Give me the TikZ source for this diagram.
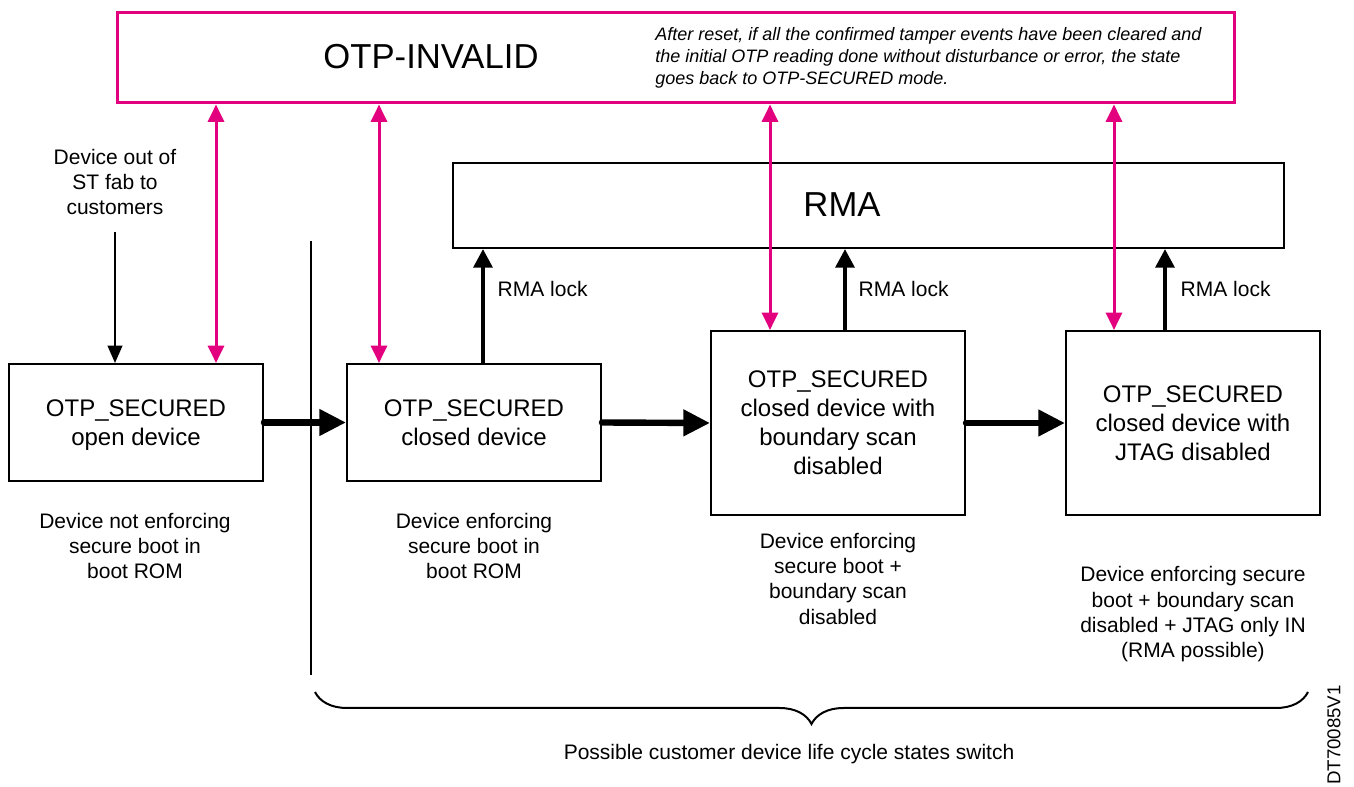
\documentclass[tikz,border=0pt]{standalone}
\usepackage{fontspec}
\setmainfont{Liberation Sans}
\usetikzlibrary{arrows.meta,decorations.pathreplacing}
\definecolor{stpink}{HTML}{E3007E}
\begin{document}
\begin{tikzpicture}[x=0.75pt,y=-0.75pt,
  statebox/.style={draw, line width=1.5pt, minimum width=190.5pt, align=center, inner sep=0pt,
    font=\fontsize{18}{21.75}\selectfont},
  caption/.style={align=center, font=\fontsize{15.75}{19}\selectfont},
  biglabel/.style={font=\fontsize{26}{30}\selectfont},
  pinkarr/.style={draw=stpink, line width=2.25pt,
    {Triangle[length=13pt,width=12pt]}-{Triangle[length=13pt,width=12pt]}},
  thickarr/.style={line width=4.8pt, line cap=round, -{Triangle[length=20pt,width=19pt]}},
  uparr/.style={line width=3.2pt, -{Triangle[length=14pt,width=14pt]}},
  thinarr/.style={line width=1.5pt, -{Triangle[length=13pt,width=11pt]}}
]
\useasboundingbox (0,0) rectangle (1354,787);

% top boxes
\node[draw=stpink, line width=2.25pt, minimum width=837.75pt, minimum height=67.5pt, inner sep=0pt] (inv) at (675.5,58) {};
\node[biglabel] (invt) at (431,57) {OTP-INVALID};
\node[anchor=west, align=left, inner sep=0pt, font=\fontsize{13.5}{16.5}\selectfont\itshape] (note) at (655,58)
  {After reset, if all the confirmed tamper events have been cleared and\\
   the initial OTP reading done without disturbance or error, the state\\
   goes back to OTP-SECURED mode.};

\node[draw, line width=1.5pt, minimum width=623.25pt, minimum height=63.75pt, inner sep=0pt] (rma) at (868.5,205.5) {};
\node[biglabel] (rmat) at (842,205) {RMA};

% state boxes
\node[statebox, minimum height=87.75pt] (b1) at (136,422.5) {OTP\_SECURED\\\smash{open device}};
\node[statebox, minimum height=87.75pt] (b2) at (474,422.5) {OTP\_SECURED\\closed device};
\node[statebox, minimum height=138pt] (b3) at (838,423) {OTP\_SECURED\\closed device with\\boundary scan\\disabled};
\node[statebox, minimum height=138pt] (b4) at (1193,423) {OTP\_SECURED\\closed device with\\JTAG disabled};

% column coordinates
\coordinate (c1) at (216,0);
\coordinate (c2) at (379,0);
\coordinate (c3) at (770,0);
\coordinate (c4) at (1114,0);
\coordinate (r1) at (483,0);
\coordinate (r2) at (845,0);
\coordinate (r3) at (1165,0);

% source text
\node[caption] (src) at (115,182) {Device out of\\ST fab to\\customers};
\coordinate (srcb) at (115,232);
\draw[thinarr] (srcb) -- (b1.north -| srcb);

% pink arrows
\draw[pinkarr] (inv.south -| c1) -- (b1.north -| c1);
\draw[pinkarr] (inv.south -| c2) -- (b2.north -| c2);
\draw[pinkarr] (inv.south -| c3) -- (b3.north -| c3);
\draw[pinkarr] (inv.south -| c4) -- (b4.north -| c4);

% RMA lock arrows
\draw[uparr] (b2.north -| r1) -- (rma.south -| r1);
\draw[uparr] (b3.north -| r2) -- (rma.south -| r2);
\draw[uparr] (b4.north -| r3) -- (rma.south -| r3);
\node[caption, anchor=west] (l1) at (493,289) {RMA lock};
\node[caption, anchor=west] (l2) at (854,289) {RMA lock};
\node[caption, anchor=west] (l3) at (1176,289) {RMA lock};

% horizontal transitions
\draw[thickarr] (b1.east) -- (b2.west);
\draw[thickarr] (b2.east) -- (b3.west);
\draw[thickarr] (b3.east) -- (b4.west);

% separator
\draw[line width=1.5pt] (311,241) -- (311,675);

% captions
\node[caption] (k1) at (135,546) {Device not enforcing\\secure boot in\\boot ROM};
\node[caption] (k2) at (474,546) {Device enforcing\\secure boot in\\boot ROM};
\node[caption] (k3) at (838,578.5) {Device enforcing\\secure boot +\\boundary scan\\disabled};
\node[caption] (k4) at (1193,614.5) {Device enforcing secure\\boot + boundary scan\\disabled + JTAG only IN\\(RMA possible)};

% brace
\draw[line width=1.5pt, decorate, decoration={brace, mirror, amplitude=24pt}] (315,692) -- (1308,692);
\node[caption] (br) at (789,754) {Possible customer device life cycle states switch};

\node[rotate=90, font=\fontsize{14}{16}\selectfont] (dt) at (1334,735) {DT70085V1};
\end{tikzpicture}
\end{document}
